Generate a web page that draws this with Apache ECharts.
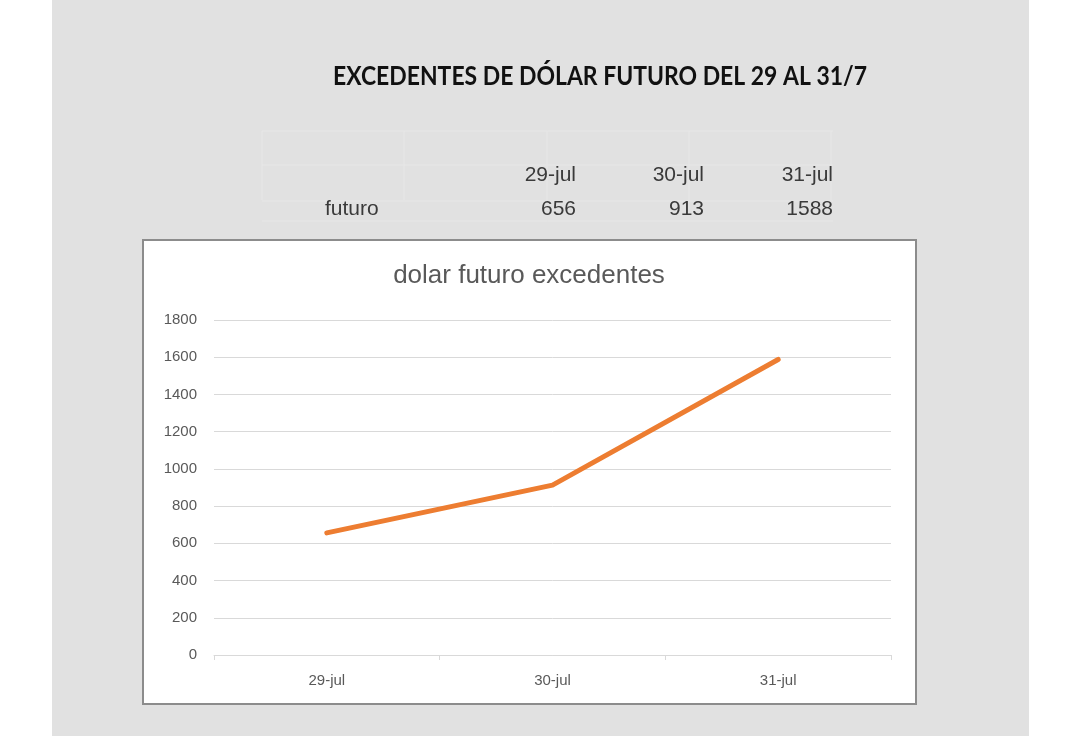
<!DOCTYPE html>
<html>
<head>
<meta charset="utf-8">
<script src="https://cdn.jsdelivr.net/npm/echarts@6/dist/echarts.min.js"></script>
<style>
  html, body { margin: 0; padding: 0; background: #fff; }
  #main { width: 1080px; height: 736px; }
</style>
</head>
<body>
<div id="main"></div>
<script>
// datos
var fechas = ['29-jul', '30-jul', '31-jul'];
var futuro = [656, 913, 1588];
var serieNombre = 'futuro';
var tituloHoja = 'EXCEDENTES DE DÓLAR FUTURO DEL 29 AL 31/7';
var tituloGrafico = 'dolar futuro excedentes';

var chart = echarts.init(document.getElementById('main'));

// tabla de arriba (texto sacado de los arrays)
var colRight = [576, 704, 833];
var tabla = [];
// lineas tenues de la tabla
[131, 165, 201, 221].forEach(function(y) {
	tabla.push({ type: 'line', shape: { x1: 262, y1: y, x2: 833, y2: y }, style: { stroke: '#e7e7e7', lineWidth: 1 }, silent: true });
});
[262, 404, 547, 689, 831].forEach(function(x) {
	tabla.push({ type: 'line', shape: { x1: x, y1: 131, x2: x, y2: 200 }, style: { stroke: '#e7e7e7', lineWidth: 1 }, silent: true });
});
for (var i = 0; i < fechas.length; i++) {
	tabla.push({ type: 'text', x: colRight[i], y: 175, style: { text: fechas[i], fill: '#3a3a3a', font: '21px "Liberation Sans"', textAlign: 'right', textVerticalAlign: 'middle' } });
	tabla.push({ type: 'text', x: colRight[i], y: 209, style: { text: String(futuro[i]), fill: '#3a3a3a', font: '21px "Liberation Sans"', textAlign: 'right', textVerticalAlign: 'middle' } });
}
tabla.push({ type: 'text', x: 325, y: 209, style: { text: serieNombre, fill: '#3a3a3a', font: '21px "Liberation Sans"', textAlign: 'left', textVerticalAlign: 'middle' } });

var option = {
	animation: false,
	backgroundColor: '#ffffff',
	graphic: [
		{ type: 'rect', z: -10, shape: { x: 52, y: 0, width: 977, height: 736 }, style: { fill: '#e1e1e1' }, silent: true },
		{ type: 'rect', z: -5, shape: { x: 143, y: 240, width: 773, height: 464 }, style: { fill: '#ffffff', stroke: '#8c8c8c', lineWidth: 2 }, silent: true },
		// titulo de la hoja, un poco angosto como Calibri
		{ type: 'text', x: 600, y: 76, scaleX: 0.85, style: { text: tituloHoja, fill: '#111', font: 'bold 27px Lato', textAlign: 'center', textVerticalAlign: 'middle' } },
		{ type: 'text', x: 529, y: 276, style: { text: tituloGrafico, fill: '#595959', font: '26px "Liberation Sans"', textAlign: 'center', textVerticalAlign: 'middle' } }
	].concat(tabla),
	grid: { left: 214, right: 189, top: 320, bottom: 81, containLabel: false },
	xAxis: {
		type: 'category',
		data: fechas,
		boundaryGap: true,
		axisLine: { lineStyle: { color: '#d9d9d9', width: 1 } },
		axisTick: { show: true, length: 5, lineStyle: { color: '#d9d9d9' } },
		axisLabel: { color: '#595959', fontSize: 15, margin: 18, fontFamily: 'Liberation Sans' }
	},
	yAxis: {
		type: 'value',
		min: 0,
		max: 1800,
		interval: 200,
		axisLine: { show: false },
		axisTick: { show: false },
		axisLabel: { color: '#595959', fontSize: 15, margin: 17, fontFamily: 'Liberation Sans', formatter: function(v) { return String(v); } },
		splitLine: { lineStyle: { color: '#d9d9d9', width: 1 } }
	},
	series: [{
		name: serieNombre,
		type: 'line',
		data: futuro,
		showSymbol: false,
		symbol: 'none',
		lineStyle: { color: '#ed7d31', width: 5, cap: 'round', join: 'round' },
		itemStyle: { color: '#ed7d31' }
	}]
};
chart.setOption(option);
</script>
</body>
</html>
